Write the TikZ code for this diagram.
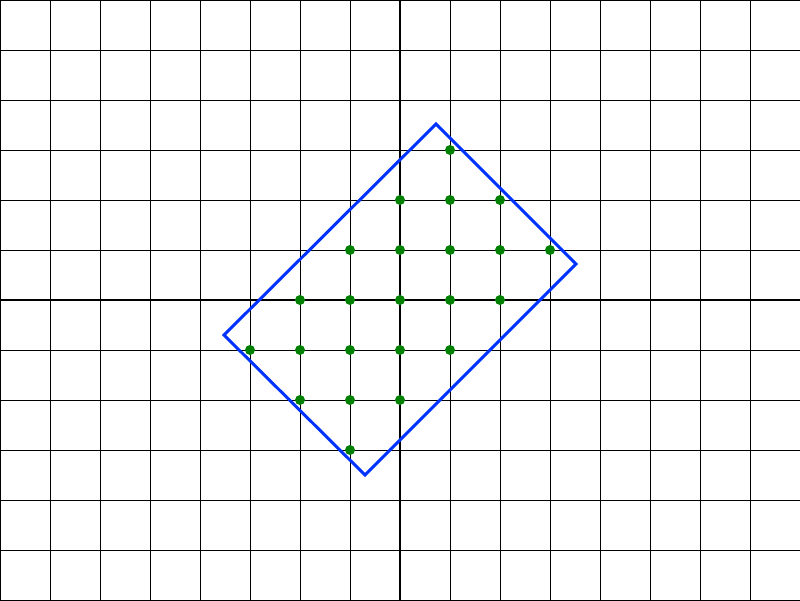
\documentclass[tikz,border=0pt]{standalone}
\begin{document}
\begin{tikzpicture}[
  gridline/.style={black, line width=0.5pt},
  axisline/.style={black, line width=1.13pt},
  rectline/.style={draw={rgb,255:red,0;green,51;blue,255}, line width=1.7pt, line join=miter},
  latticedot/.style={circle, fill={rgb,255:red,0;green,128;blue,0}, inner sep=0pt, minimum size=0.2cm}
]
\useasboundingbox (-8,-6) rectangle (8,6);
\draw[gridline] (-8,-6) grid (8,6);
\draw[axisline] (-8,0) -- (8,0);
\draw[axisline] (0,-6) -- (0,6);
\coordinate (A) at (0.72,3.52);
\coordinate (B) at (3.52,0.72);
\coordinate (C) at (-0.7,-3.5);
\coordinate (D) at (-3.52,-0.7);
\draw[rectline] (A) -- (B) -- (C) -- (D) -- cycle;
\foreach \p [count=\i] in {(1,3),
  (0,2),(1,2),(2,2),
  (-1,1),(0,1),(1,1),(2,1),(3,1),
  (-2,0),(-1,0),(0,0),(1,0),(2,0),
  (-3,-1),(-2,-1),(-1,-1),(0,-1),(1,-1),
  (-2,-2),(-1,-2),(0,-2),
  (-1,-3)}
  \node[latticedot] (d\i) at \p {};
\end{tikzpicture}
\end{document}
